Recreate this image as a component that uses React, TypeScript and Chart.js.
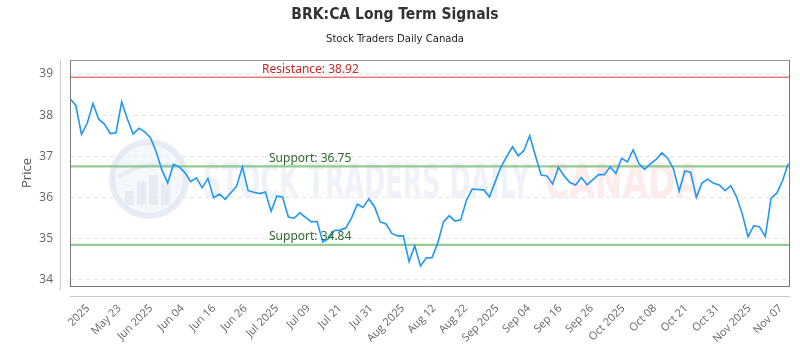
import { useEffect, useRef } from "react";
import { Chart, registerables } from "chart.js";

Chart.register(...registerables);

const chartTitle = "BRK:CA Long Term Signals";
const chartSubtitle = "Stock Traders Daily Canada";
const yAxisTitle = "Price";

const prices = [
  38.40, 38.24, 37.53, 37.80, 38.28, 37.90, 37.78, 37.55, 37.57, 38.32,
  37.90, 37.54, 37.68, 37.59, 37.45, 37.11, 36.66, 36.35, 36.80, 36.74,
  36.60, 36.38, 36.47, 36.23, 36.46, 35.99, 36.08, 35.95, 36.11, 36.27,
  36.74, 36.16, 36.12, 36.09, 36.13, 35.66, 36.03, 36.00, 35.52, 35.49,
  35.62, 35.51, 35.40, 35.41, 34.91, 34.99, 35.19, 35.20, 35.25, 35.50,
  35.83, 35.75, 35.96, 35.77, 35.40, 35.35, 35.12, 35.06, 35.06, 34.44,
  34.82, 34.33, 34.52, 34.53, 34.88, 35.40, 35.55, 35.42, 35.45, 35.93,
  36.20, 36.19, 36.18, 36.01, 36.38, 36.74, 36.99, 37.23, 37.01, 37.14,
  37.50, 37.01, 36.54, 36.52, 36.32, 36.73, 36.52, 36.36, 36.30, 36.48,
  36.30, 36.43, 36.55, 36.55, 36.74, 36.58, 36.95, 36.86, 37.15, 36.82,
  36.68, 36.81, 36.92, 37.08, 36.95, 36.70, 36.15, 36.64, 36.61, 36.00,
  36.35, 36.44, 36.34, 36.30, 36.16, 36.28, 36.01, 35.59, 35.04, 35.31,
  35.28, 35.04, 35.97, 36.10, 36.40, 36.82,
];

const tickLabels = [
  "2025", "May 23", "Jun 2025", "Jun 04", "Jun 16", "Jun 26", "Jul 2025",
  "Jul 09", "Jul 21", "Jul 31", "Aug 2025", "Aug 12", "Aug 22", "Sep 2025",
  "Sep 04", "Sep 16", "Sep 26", "Oct 2025", "Oct 08", "Oct 21", "Oct 31",
  "Nov 2025", "Nov 07",
];

const yTickValues = [34, 35, 36, 37, 38, 39];

const resistanceLevels = [38.92];
const supportLevels = [36.75, 34.84];

// axis geometry (in data units)
const X_MAX_EXTRA = 0.3;
const FIRST_TICK = 3.13;
const TICK_STEP = 5.479;
const Y_MIN = 33.84;
const Y_MAX = 39.34;

const fmt = (v: number) => v.toFixed(2);

function drawFittedText(
  ctx: CanvasRenderingContext2D,
  text: string,
  x: number,
  baseline: number,
  width: number,
  font: string,
  color: string
) {
  ctx.save();
  ctx.font = font;
  const w = ctx.measureText(text).width || 1;
  ctx.translate(x, baseline);
  ctx.scale(width / w, 1);
  ctx.fillStyle = color;
  ctx.textAlign = "left";
  ctx.textBaseline = "alphabetic";
  ctx.fillText(text, 0, 0);
  ctx.restore();
}

const decorPlugin = {
  id: "decor",
  beforeDatasetsDraw(chart: any) {
    const { ctx, chartArea, scales } = chart;
    const y = scales.y;
    ctx.save();
    ctx.beginPath();
    ctx.rect(chartArea.left, chartArea.top, chartArea.right - chartArea.left, chartArea.bottom - chartArea.top);
    ctx.clip();

    // watermark logo
    const cx = 149, cy = 179, r = 37;
    ctx.beginPath();
    ctx.arc(cx, cy, r, 0, Math.PI * 2);
    ctx.fillStyle = "rgba(240,243,249,0.7)";
    ctx.fill();
    ctx.lineWidth = 6;
    ctx.strokeStyle = "rgba(226,231,241,0.8)";
    ctx.stroke();
    ctx.fillStyle = "rgba(226,231,241,0.75)";
    const bars = [[-24, 14], [-12, 24], [0, 30], [12, 22]];
    for (const [dx, h] of bars) {
      ctx.fillRect(cx + dx, cy + 26 - h, 9, h);
    }
    ctx.beginPath();
    ctx.moveTo(cx - 30, cy - 2);
    ctx.quadraticCurveTo(cx - 5, cy - 20, cx + 28, cy - 12);
    ctx.lineWidth = 4;
    ctx.strokeStyle = "rgba(226,231,241,0.75)";
    ctx.stroke();

    drawFittedText(ctx, "STOCK TRADERS DAILY", 203, 198, 327,
      "bold 48px 'Liberation Sans Narrow', 'DejaVu Sans Condensed', sans-serif",
      "rgba(232,236,245,0.7)");
    drawFittedText(ctx, "CANADA", 545, 198, 156,
      "bold 48px 'Liberation Sans Narrow', 'DejaVu Sans Condensed', sans-serif",
      "rgba(254,226,226,0.7)");
    ctx.restore();

    // level lines
    ctx.save();
    for (const v of resistanceLevels) {
      const py = y.getPixelForValue(v);
      ctx.beginPath();
      ctx.moveTo(chartArea.left, py);
      ctx.lineTo(chartArea.right, py);
      ctx.lineWidth = 1.5;
      ctx.strokeStyle = "rgba(226,110,110,0.9)";
      ctx.stroke();
    }
    for (const v of supportLevels) {
      const py = y.getPixelForValue(v);
      ctx.beginPath();
      ctx.moveTo(chartArea.left, py);
      ctx.lineTo(chartArea.right, py);
      ctx.lineWidth = 2.2;
      ctx.strokeStyle = "rgba(120,190,120,0.8)";
      ctx.stroke();
    }
    ctx.restore();
  },
  afterDatasetsDraw(chart: any) {
    const { ctx, scales } = chart;
    const y = scales.y;
    ctx.save();
    ctx.font = "12px 'Noto Sans', 'Open Sans', sans-serif";
    ctx.textAlign = "left";
    ctx.textBaseline = "middle";
    for (const v of resistanceLevels) {
      ctx.fillStyle = "#c62828";
      ctx.fillText("Resistance: " + fmt(v), 262, y.getPixelForValue(v) - 8);
    }
    for (const v of supportLevels) {
      ctx.fillStyle = "#2e6b2e";
      ctx.fillText("Support: " + fmt(v), 269, y.getPixelForValue(v) - 8);
    }
    ctx.restore();
  },
  afterDraw(chart: any) {
    const { ctx, chartArea } = chart;
    ctx.save();
    ctx.lineWidth = 1;
    // y axis line
    ctx.beginPath();
    ctx.moveTo(60.5, chartArea.top);
    ctx.lineTo(60.5, chartArea.bottom + 4);
    ctx.strokeStyle = "#c8c8c8";
    ctx.stroke();
    // x axis line
    ctx.beginPath();
    ctx.moveTo(chartArea.left, 296.5);
    ctx.lineTo(chartArea.right, 296.5);
    ctx.stroke();
    // plot box
    ctx.beginPath();
    ctx.moveTo(chartArea.left + 0.5, chartArea.bottom + 0.5);
    ctx.lineTo(chartArea.left + 0.5, chartArea.top + 0.5);
    ctx.strokeStyle = "#777";
    ctx.stroke();
    ctx.beginPath();
    ctx.moveTo(chartArea.left, chartArea.top + 0.5);
    ctx.lineTo(chartArea.right, chartArea.top + 0.5);
    ctx.strokeStyle = "#9a9a9a";
    ctx.stroke();
    ctx.beginPath();
    ctx.moveTo(chartArea.left, chartArea.bottom + 0.5);
    ctx.lineTo(chartArea.right - 0.5, chartArea.bottom + 0.5);
    ctx.lineTo(chartArea.right - 0.5, chartArea.top);
    ctx.strokeStyle = "#777";
    ctx.stroke();
    ctx.restore();
  },
};

export default function App() {
  const canvasRef = useRef<HTMLCanvasElement | null>(null);

  useEffect(() => {
    const canvas = canvasRef.current;
    if (!canvas) return;
    const chart = new Chart(canvas, {
      type: "line",
      data: {
        datasets: [
          {
            label: "Price",
            data: prices.map((p, i) => ({ x: i, y: p })),
            borderColor: "#2196f3",
            borderWidth: 1.6,
            pointRadius: 0,
            tension: 0,
            fill: false,
          },
        ],
      },
      options: {
        animation: false,
        responsive: false,
        maintainAspectRatio: false,
        layout: { padding: { left: 0, right: 10, top: 0, bottom: 0 } },
        plugins: {
          legend: { display: false },
          tooltip: { enabled: false },
          title: {
            display: true,
            text: chartTitle,
            color: "#333",
            font: { family: "'Liberation Sans Narrow', 'DejaVu Sans Condensed', sans-serif", size: 15.5, weight: "bold" },
            padding: { top: 6, bottom: 8 },
          },
          subtitle: {
            display: true,
            text: chartSubtitle,
            color: "#222",
            font: { family: "'Liberation Sans Narrow', 'DejaVu Sans Condensed', sans-serif", size: 11.2 },
            padding: { top: 0, bottom: 14 },
          },
        },
        scales: {
          x: {
            type: "linear",
            min: 0,
            max: prices.length - 1 + X_MAX_EXTRA,
            afterBuildTicks: (scale: any) => {
              scale.ticks = tickLabels.map((_, k) => ({ value: FIRST_TICK + k * TICK_STEP }));
            },
            afterFit: (scale: any) => {
              scale.height = 64;
              scale.paddingLeft = 0;
              scale.paddingRight = 0;
            },
            grid: { display: false, drawTicks: false },
            border: { display: false },
            ticks: {
              autoSkip: false,
              minRotation: 45,
              maxRotation: 45,
              padding: 16,
              color: "#666",
              font: { family: "'Open Sans', sans-serif", size: 11 },
              callback: (_v: any, i: number) => tickLabels[i],
            },
          },
          y: {
            type: "linear",
            min: Y_MIN,
            max: Y_MAX,
            afterBuildTicks: (scale: any) => {
              scale.ticks = yTickValues.map((v) => ({ value: v }));
            },
            afterFit: (scale: any) => {
              scale.width = 70;
              scale.paddingTop = 0;
              scale.paddingBottom = 0;
            },
            grid: { drawTicks: false, color: "#e4e4e4", lineWidth: 1 },
            border: { display: false, dash: [4, 4] },
            ticks: {
              padding: 17,
              color: "#666",
              font: { family: "'Open Sans', sans-serif", size: 12 },
              callback: (v: any) => String(v),
            },
            title: {
              display: true,
              text: yAxisTitle,
              color: "#555",
              font: { family: "'Open Sans', sans-serif", size: 13 },
              padding: { top: 19, bottom: 0 },
            },
          },
        },
      },
      plugins: [decorPlugin],
    } as any);
    return () => chart.destroy();
  }, []);

  return (
    <div style={{ position: "fixed", left: 0, top: 0, width: 800, height: 350, background: "#fff" }}>
      <canvas ref={canvasRef} width={800} height={350} style={{ width: 800, height: 350, display: "block" }} />
    </div>
  );
}
